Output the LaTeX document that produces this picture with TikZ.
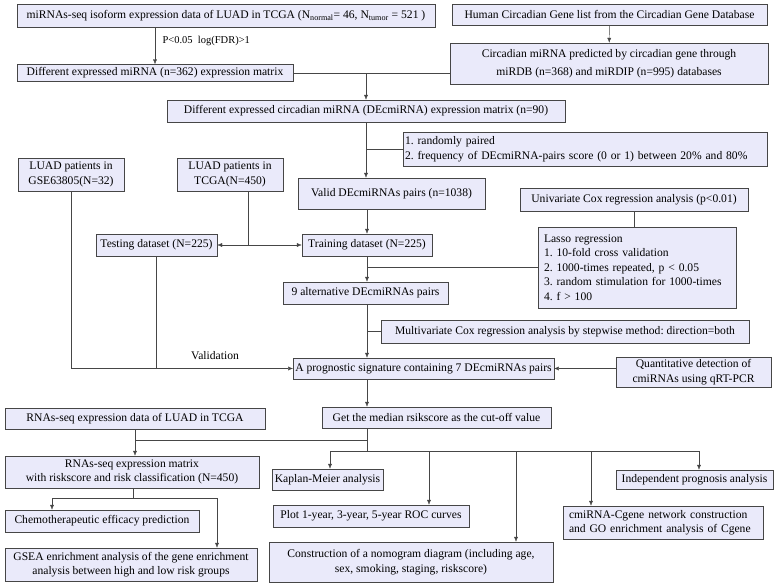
\documentclass[tikz,border=0pt]{standalone}
\usepackage{fontspec}
\setmainfont{Liberation Serif}
\usetikzlibrary{arrows.meta}
\definecolor{boxfill}{RGB}{234,234,250}
\definecolor{edge}{RGB}{70,70,70}
\frenchspacing

\begin{document}
\begin{tikzpicture}[x=1pt,y=-1pt,
    every node/.style={font=\fontsize{11.6}{14.5}\selectfont},
    box/.style={draw=edge,fill=boxfill,inner xsep=2pt,inner ysep=1pt,align=center},
    lbox/.style={box,align=left},
    arr/.style={draw=edge,-{Latex[length=5pt,width=4pt]}},
    ln/.style={draw=edge}]
    \useasboundingbox (0,0) rectangle (779,587);
    \node[box,minimum width=418,minimum height=23] (raw) at (226,15.5) {miRNAs-seq isoform expression data of LUAD in TCGA (N\textsubscript{normal}= 46, N\textsubscript{tumor} = 521 )};
    \node[box,minimum width=276,minimum height=17] (diffmat) at (155,73) {Different expressed miRNA (n=362) expression matrix};
    \node[box,minimum width=315,minimum height=21] (gene) at (609.5,14.5) {Human Circadian Gene list from the Circadian Gene Database};
    \node[box,minimum width=318,minimum height=41] (predicted) at (609,63.5) {Circadian miRNA predicted by circadian gene through\\[3pt]miRDB (n=368) and miRDIP (n=995) databases};
    \node[box,minimum width=398,minimum height=22] (decm) at (366,111) {Different expressed circadian miRNA (DEcmiRNA) expression matrix (n=90)};
    \node[lbox,text width=360,minimum height=34] (pair) at (585,149) {1. randomly paired\\2. frequency of DEcmiRNA-pairs score (0 or 1) between 20\% and 80\%};
    \node[box,minimum width=106,minimum height=33] (gse) at (71,174.5) {LUAD patients in\\GSE63805(N=32)};
    \node[box,minimum width=106,minimum height=33] (tcga) at (230,174.5) {LUAD patients in\\TCGA(N=450)};
    \node[box,minimum width=187,minimum height=31] (valid) at (391.5,193.5) {Valid DEcmiRNAs pairs (n=1038)};
    \node[box,minimum width=121,minimum height=22] (test) at (156.5,245) {Testing dataset (N=225)};
    \node[box,minimum width=130,minimum height=22] (train) at (367,245) {Training dataset (N=225)};
    \node[box,minimum width=228,minimum height=23] (uni) at (634,199.5) {Univariate Cox regression analysis (p<0.01)};
    \node[lbox,text width=186,minimum height=81,inner xsep=6pt] (lasso) at (637,267.5) {Lasso regression\\1. 10-fold cross validation\\2. 1000-times repeated, p < 0.05\\3. random stimulation for 1000-times\\4. f > 100};
    \node[box,minimum width=165,minimum height=22] (alt) at (365.5,293) {9 alternative DEcmiRNAs pairs};
    \node[box,minimum width=368,minimum height=23] (multi) at (565,331.5) {Multivariate Cox regression analysis by stepwise method: direction=both};
    \node[box,minimum width=249,minimum height=21] (prog) at (423.5,368.5) {A prognostic signature containing 7 DEcmiRNAs pairs};
    \node[box,minimum width=155,minimum height=30] (qpcr) at (693.5,372) {Quantitative detection of\\cmiRNAs using qRT-PCR};
    \node[box,minimum width=229,minimum height=21] (median) at (436.5,417.5) {Get the median rsikscore as the cut-off value};
    \node[box,minimum width=260,minimum height=21] (rnadata) at (135,418.5) {RNAs-seq expression data of LUAD in TCGA};
    \node[box,minimum width=254,minimum height=32] (rnamat) at (132,472) {RNAs-seq expression matrix\\with riskscore and risk classification (N=450)};
    \node[box,minimum width=111,minimum height=21] (km) at (327.5,479.5) {Kaplan-Meier analysis};
    \node[box,minimum width=196,minimum height=22] (roc) at (371,516) {Plot 1-year, 3-year, 5-year ROC curves};
    \node[box,minimum width=284,minimum height=40] (nomo) at (411,562) {Construction of a nomogram diagram (including age,\\sex, smoking, staging, riskscore)};
    \node[lbox,text width=188,minimum height=33,inner xsep=6pt] (cgene) at (663,522.5) {cmiRNA-Cgene network construction\\and GO enrichment analysis of Cgene};
    \node[box,minimum width=157,minimum height=19] (indep) at (694.5,479.5) {Independent prognosis analysis};
    \node[box,minimum width=194,minimum height=22] (chemo) at (102,521) {Chemotherapeutic efficacy prediction};
    \node[box,minimum width=252,minimum height=33] (gsea) at (131,564.5) {GSEA enrichment analysis of the gene enrichment\\analysis between high and low risk groups};
    \node[anchor=west,font=\fontsize{10.5}{12}\selectfont] (pval) at (159,41) {P<0.05\ \ log(FDR)>1};
    \node (vlabel) at (215,356) {Validation};
    \coordinate (split) at (248,245);
    \coordinate (j1) at (367,440);
    \coordinate (j2) at (367,451);
    \coordinate (j3) at (133,498);
    \draw[arr] (raw.south -| diffmat) -- (diffmat);
    \draw[arr] (gene) -- (predicted);
    \draw[ln] (diffmat.east) -- (predicted.west |- diffmat.east);
    \draw[arr] (decm |- diffmat.east) -- (decm);
    \draw[arr] (decm) -- (decm |- valid.north);
    \draw[ln] (pair.west) -- (pair.west -| decm);
    \draw[ln] (tcga.south -| split) -- (split);
    \draw[arr] (split) -- (test);
    \draw[arr] (split) -- (train);
    \draw[arr] (valid.south -| train) -- (train);
    \draw[arr] (train.south) -- (train.south |- alt.north);
    \draw[ln] (uni.south) -- (uni.south |- lasso.north);
    \draw[ln] (lasso.west) -- (lasso.west -| train);
    \draw[arr] (alt.south -| train) -- (prog.north -| train);
    \draw[ln] (multi.west) -- (multi.west -| train);
    \draw[arr] (gse) |- (prog);
    \draw[ln] (test) -- (test |- prog);
    \draw[arr] (qpcr.west |- prog) -- (prog);
    \draw[arr] (prog.south -| train) -- (median.north -| train);
    \draw[ln] (median.south -| train) -- (j2);
    \draw[ln] (j1) -- (j1 -| rnadata.south);
    \draw[arr] (rnadata.south) -- (rnadata.south |- rnamat.north);
    \draw[ln] (j2 -| 330,0) -- (j2 -| 699,0);
    \foreach \x/\n in {330/km,429/roc,516/nomo,591/cgene,699/indep}
        \draw[arr] (j2 -| \x,0) -- (\n.north -| \x,0);
    \draw[ln] (rnamat.south -| j3) -- (j3);
    \draw[ln] (j3 -| 52,0) -- (j3 -| 217,0);
    \draw[arr] (j3 -| 52,0) -- (chemo.north -| 52,0);
    \draw[arr] (j3 -| 217,0) -- (gsea.north -| 217,0);
\end{tikzpicture}
\end{document}
